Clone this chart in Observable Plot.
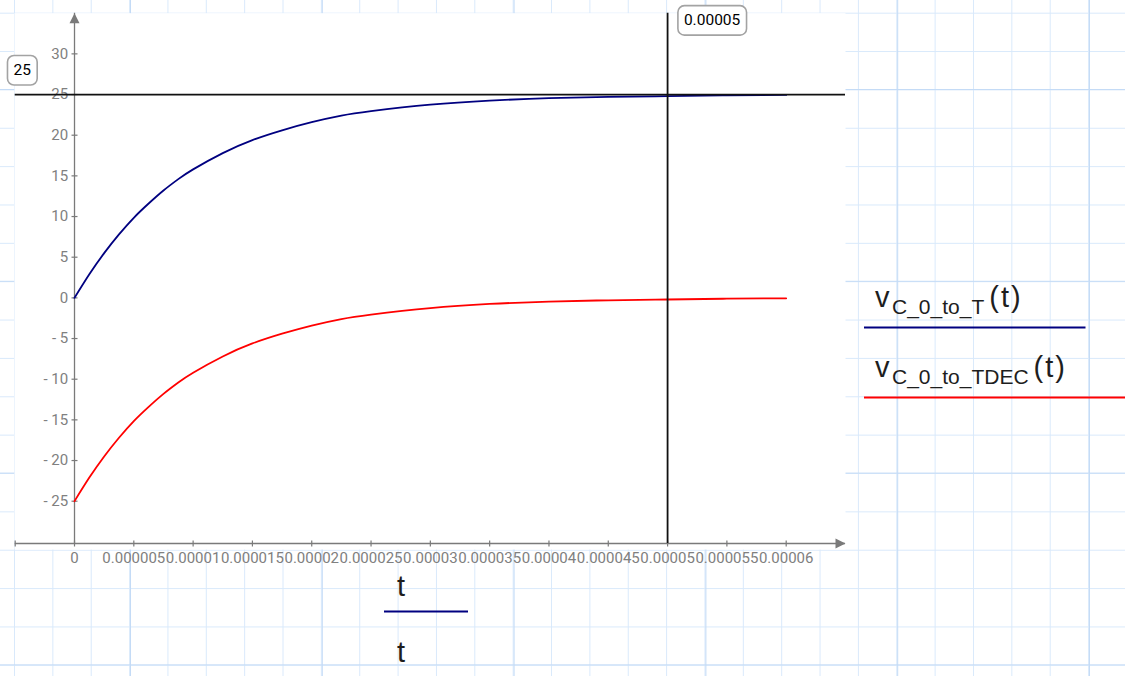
<!DOCTYPE html>
<html>
<head>
<meta charset="utf-8">
<script src="https://cdn.jsdelivr.net/npm/d3@7"></script>
<script src="https://cdn.jsdelivr.net/npm/@observablehq/plot@0.6"></script>
<style>
  html, body { margin: 0; padding: 0; background: #fff; }
  #chart {
    position: relative;
    width: 1125px;
    height: 676px;
    overflow: hidden;
    background-color: #fff;
    /* worksheet grid paper: major lines every 5 cells */
    background-image:
      linear-gradient(to right, #c4dbf6 1px, transparent 1px),
      linear-gradient(to bottom, #c4dbf6 1px, transparent 1px),
      linear-gradient(to right, #d9e9fb 1px, transparent 1px),
      linear-gradient(to bottom, #d9e9fb 1px, transparent 1px);
    background-size: 191.8px 191.8px, 191.8px 191.8px, 38.36px 38.36px, 38.36px 38.36px;
    background-position: 130px 0, 0 89px, 14px 0, 0 12.7px;
  }
  #chart svg { background: transparent !important; }
</style>
</head>
<body>
<div id="chart"></div>
<script>
// time samples (s) and capacitor voltages (V)
const t      = [0, 0.00000125, 0.0000025, 0.00000375, 0.000005, 0.00000625, 0.0000075, 0.00000875,
                0.00001, 0.0000125, 0.000015, 0.0000175, 0.00002, 0.0000225, 0.000025, 0.00003,
                0.000035, 0.00004, 0.000045, 0.00005, 0.000055, 0.00006];
const vC_0_to_T    = [0, 2.9, 5.5, 7.8, 9.85, 11.6, 13.2, 14.6,
                      15.8, 17.8, 19.4, 20.6, 21.6, 22.4, 22.95, 23.75,
                      24.25, 24.55, 24.7, 24.8, 24.9, 24.95];
const vC_0_to_TDEC = [-25, -22.1, -19.5, -17.2, -15.15, -13.4, -11.8, -10.4,
                      -9.2, -7.2, -5.6, -4.4, -3.4, -2.6, -2.05, -1.25,
                      -0.75, -0.45, -0.3, -0.2, -0.1, -0.05];

const seriesNames  = ["C_0_to_T", "C_0_to_TDEC"];
const seriesColors = ["#000080", "#ff0000"];

// axis ticks and their labels
const yTicks      = [-25, -20, -15, -10, -5, 0, 5, 10, 15, 20, 25, 30];
const yTickLabels = ["- 25", "- 20", "- 15", "- 10", "- 5", "0",
                     "5", "10", "15", "20", "25", "30"];
const xTicks      = [-0.000005, 0, 0.000005, 0.00001, 0.000015, 0.00002, 0.000025, 0.00003,
                     0.000035, 0.00004, 0.000045, 0.00005, 0.000055, 0.00006];
const xTickLabels = ["", "0", "0.000005", "0.00001", "0.000015", "0.00002", "0.000025", "0.00003",
                     "0.000035", "0.00004", "0.000045", "0.00005", "0.000055", "0.00006"];

// axis limits and marker positions
const xDomain = [-0.000005, 0.000065];
const yDomain = [-30.2, 35];
const markerY = 25;
const markerX = 0.00005;

const rowsT    = t.map((d, i) => ({t: d, v: vC_0_to_T[i]}));
const rowsTDEC = t.map((d, i) => ({t: d, v: vC_0_to_TDEC[i]}));

// small crossing tick marks and filled arrowheads for the axes
const hTick = {draw(ctx, size) { const r = Math.sqrt(size / Math.PI); ctx.moveTo(-r, 0); ctx.lineTo(r, 0); }};
const vTick = {draw(ctx, size) { const r = Math.sqrt(size / Math.PI); ctx.moveTo(0, -r); ctx.lineTo(0, r); }};
const arrowHead = {draw(ctx) { ctx.moveTo(0, 0); ctx.lineTo(-5, 10); ctx.lineTo(5, 10); ctx.closePath(); }};

const axisColor = "#7a7a7a";
const labelColor = "#808080";
const textFont = "'Liberation Sans', Arial, sans-serif";

const chart = Plot.plot({
  width: 1125,
  height: 676,
  marginLeft: 14,
  marginRight: 280,
  marginTop: 12.7,
  marginBottom: 127,
  style: {fontFamily: "Roboto, sans-serif", background: "transparent"},
  x: {type: "linear", domain: xDomain, range: [14.7, 845], axis: null},
  y: {type: "linear", domain: yDomain, range: [543, 12.7], axis: null},
  marks: [
    Plot.frame({fill: "white", stroke: "none"}),
    // axes
    Plot.ruleY([yDomain[0]], {x1: xDomain[0], x2: xDomain[1], stroke: axisColor, strokeWidth: 1.3}),
    Plot.ruleX([0], {y1: yDomain[0], y2: yDomain[1], stroke: axisColor, strokeWidth: 1.3}),
    Plot.dot([xDomain[1]], {x: d => d, y: yDomain[0], symbol: arrowHead, rotate: 90, fill: axisColor, stroke: "none"}),
    Plot.dot([yDomain[1]], {x: 0, y: d => d, symbol: arrowHead, fill: axisColor, stroke: "none"}),
    Plot.dot(yTicks, {x: 0, y: d => d, symbol: hTick, r: 3, fill: "none", stroke: axisColor, strokeWidth: 1.2}),
    Plot.dot(xTicks, {x: d => d, y: yDomain[0], symbol: vTick, r: 3, fill: "none", stroke: axisColor, strokeWidth: 1.2}),
    Plot.text(yTicks, {x: 0, y: d => d, text: (d, i) => yTickLabels[i], textAnchor: "end", dx: -6.3,
                       fontSize: 15, fill: labelColor}),
    Plot.text(xTicks, {x: d => d, y: yDomain[0], text: (d, i) => xTickLabels[i], dy: 14.5,
                       fontSize: 15, fill: labelColor}),
    // traces
    Plot.line(rowsT, {x: "t", y: "v", stroke: seriesColors[0], strokeWidth: 1.8, curve: "natural"}),
    Plot.line(rowsTDEC, {x: "t", y: "v", stroke: seriesColors[1], strokeWidth: 1.8, curve: "natural"}),
    // markers
    Plot.ruleY([markerY], {x1: xDomain[0], x2: xDomain[1], stroke: "#111", strokeWidth: 1.8}),
    Plot.ruleX([markerX], {y1: yDomain[0], y2: yDomain[1], stroke: "#111", strokeWidth: 1.8}),
    Plot.text([markerY], {x: xDomain[0], y: d => d, text: d => String(d), dx: 7, dy: -24.5,
                          fontSize: 15.5, fill: "black"}),
    Plot.text([markerX], {x: d => d, y: yDomain[1], text: d => String(d), dx: 44.5, dy: 7,
                          fontSize: 15.5, fill: "black"})
  ]
});

document.getElementById("chart").append(chart);

const svg = d3.select(chart);

// rounded boxes behind the marker values
svg.selectAll('g[fill="black"] text').each(function () {
  const b = this.getBBox();
  const tr = this.getAttribute("transform");
  const box = d3.select(this.parentNode).insert("rect", () => this)
    .attr("x", b.x - 6).attr("y", b.y + b.height / 2 - 14.5)
    .attr("width", b.width + 12).attr("height", 29.5)
    .attr("rx", 6.5)
    .attr("fill", "#fff").attr("stroke", "#a3a3a3").attr("stroke-width", 1.6);
  if (tr) box.attr("transform", tr);
});

// trace legend on the right
const legend = svg.append("g").attr("font-family", textFont).attr("fill", "#1e1e1e")
  .attr("text-anchor", "start");
const legendRows = [
  {baseline: 306.7, lineY: 327.5, x2: 1085.5},
  {baseline: 376.7, lineY: 397.5, x2: 1125}
];
seriesNames.forEach((name, i) => {
  const r = legendRows[i];
  const txt = legend.append("text").attr("x", 875).attr("y", r.baseline);
  txt.append("tspan").attr("font-size", 29).text("v");
  txt.append("tspan").attr("font-size", 21).attr("dx", 2.5).attr("dy", 7).text(name);
  txt.append("tspan").attr("font-size", 29).attr("dx", 5).attr("dy", -7)
    .attr("letter-spacing", 2).text("(t)");
  legend.append("line").attr("x1", 864).attr("x2", r.x2).attr("y1", r.lineY).attr("y2", r.lineY)
    .attr("stroke", seriesColors[i]).attr("stroke-width", 2);
});

// x-axis variable label
const xl = svg.append("g").attr("font-family", textFont).attr("fill", "#1e1e1e")
  .attr("font-size", 29).attr("text-anchor", "middle");
xl.append("text").attr("x", 401).attr("y", 596).text("t");
xl.append("line").attr("x1", 384).attr("x2", 468).attr("y1", 611.5).attr("y2", 611.5)
  .attr("stroke", seriesColors[0]).attr("stroke-width", 2);
xl.append("text").attr("x", 401).attr("y", 661.5).text("t");
</script>
</body>
</html>
